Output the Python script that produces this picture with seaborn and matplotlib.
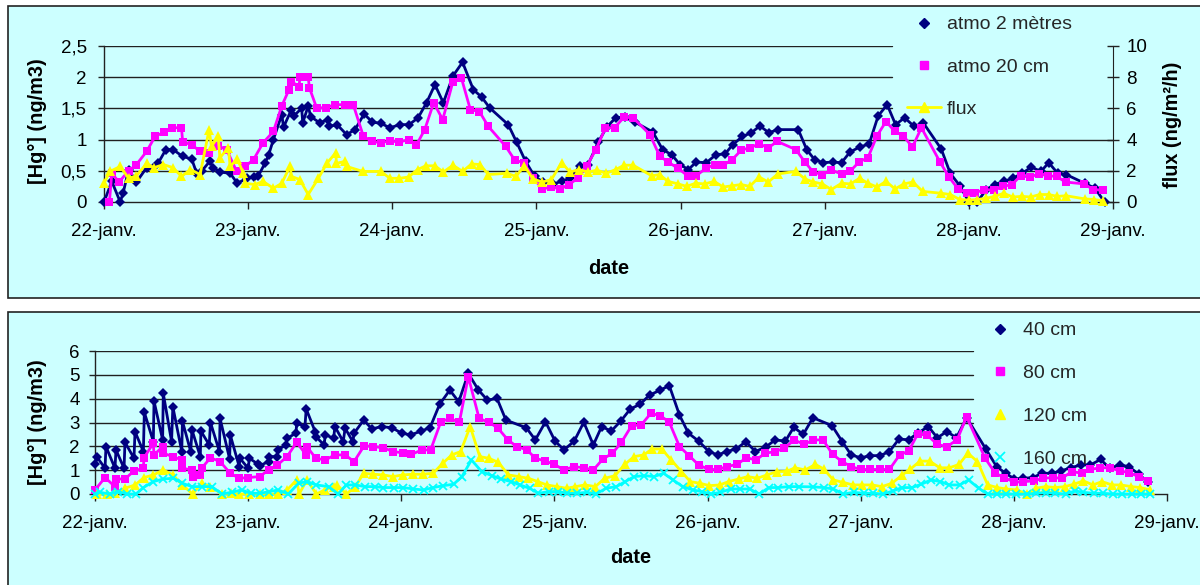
import numpy as np
import matplotlib
matplotlib.use("Agg")
import matplotlib.pyplot as plt
import seaborn as sns
from matplotlib.lines import Line2D
from matplotlib.patches import Rectangle

# ---------------------------------------------------------------------------
# Data: time in hours after 22-janv. 00:00, concentrations in ng/m3
# ---------------------------------------------------------------------------
day_labels = ['22-janv.', '23-janv.', '24-janv.', '25-janv.',
              '26-janv.', '27-janv.', '28-janv.', '29-janv.']

# upper panel: atmosphere 2 m
hours_atmo_2m = [
    0.0, 1.3, 2.7, 3.2, 4.1, 5.4, 7.1, 8.2, 9.0, 10.3,
    11.5, 13.1, 14.6, 15.4, 16.3, 17.6, 18.2, 19.3, 21.0, 22.2,
    23.8, 24.9, 25.7, 26.8, 27.4, 28.2, 29.6, 29.9, 31.2, 31.6,
    32.9, 33.1, 34.0, 34.4, 35.9, 37.3, 37.5, 38.8, 40.4, 41.8,
    43.3, 44.7, 46.1, 47.6, 49.3, 50.8, 52.3, 53.7, 55.1, 56.5,
    58.1, 59.7, 61.5, 62.9, 64.2, 67.3, 68.7, 70.2, 71.7, 73.1,
    74.8, 76.2, 77.6, 79.2, 80.6, 82.3, 83.7, 85.2, 86.7, 88.4,
    91.4, 93.0, 94.5, 95.9, 97.3, 98.6, 100.3, 101.9, 103.4, 104.7,
    106.3, 107.8, 109.2, 110.7, 112.2, 115.6, 117.0, 118.3, 119.7, 121.3,
    122.8, 124.2, 125.8, 127.4, 128.9, 130.4, 131.8, 133.3, 134.9, 136.4,
    139.4, 140.9, 142.5, 144.0, 145.4, 146.9, 148.3, 149.8, 151.3, 152.9,
    154.4, 156.0, 157.3, 158.8, 160.2, 163.3, 165.0, 166.6]
atmo_2m = [
    0.0, 0.33, 0.0, 0.15, 0.52, 0.32, 0.55, 0.55, 0.62, 0.84,
    0.84, 0.73, 0.69, 0.47, 0.50, 0.65, 0.55, 0.48, 0.46, 0.30,
    0.38, 0.40, 0.42, 0.62, 0.75, 1.0, 1.4, 1.2, 1.48, 1.38,
    1.50, 1.27, 1.54, 1.37, 1.27, 1.32, 1.21, 1.24, 1.08, 1.16,
    1.41, 1.28, 1.26, 1.19, 1.24, 1.24, 1.35, 1.59, 1.88, 1.59,
    2.02, 2.24, 1.80, 1.68, 1.51, 1.24, 0.96, 0.65, 0.41, 0.32,
    0.29, 0.33, 0.38, 0.57, 0.60, 0.96, 1.20, 1.35, 1.36, 1.28,
    1.12, 0.84, 0.76, 0.60, 0.52, 0.64, 0.63, 0.76, 0.77, 0.92,
    1.05, 1.11, 1.22, 1.11, 1.16, 1.16, 0.84, 0.68, 0.63, 0.64,
    0.63, 0.80, 0.88, 0.93, 1.38, 1.56, 1.24, 1.35, 1.21, 1.27,
    0.85, 0.46, 0.26, 0.0, 0.0, 0.20, 0.28, 0.33, 0.38, 0.46,
    0.56, 0.49, 0.63, 0.46, 0.44, 0.30, 0.22, 0.0]

# upper panel: atmosphere 20 cm
hours_atmo_20cm = [
    0.9, 1.3, 2.5, 4.1, 5.4, 7.1, 8.5, 10.0, 11.4, 12.9,
    13.1, 14.6, 16.0, 17.5, 19.0, 20.4, 22.1, 23.5, 24.9, 26.5,
    28.2, 29.6, 30.8, 31.2, 32.5, 32.6, 34.0, 34.2, 35.4, 36.9,
    38.4, 40.1, 41.5, 43.2, 44.7, 46.1, 47.6, 49.2, 50.7, 52.0,
    53.4, 54.9, 56.4, 58.1, 59.5, 61.0, 62.5, 64.0, 66.9, 68.4,
    69.9, 71.5, 73.0, 74.5, 76.0, 77.4, 78.9, 80.4, 81.9, 83.5,
    85.0, 86.6, 88.1, 90.9, 92.5, 93.9, 95.6, 97.3, 98.6, 100.2,
    101.7, 103.1, 104.6, 106.1, 107.5, 109.1, 110.6, 112.1, 115.2, 116.7,
    118.1, 119.6, 121.1, 122.8, 124.2, 125.7, 127.2, 128.7, 130.2, 131.7,
    133.1, 134.6, 136.1, 139.2, 140.7, 142.2, 143.7, 145.1, 146.6, 148.2,
    149.7, 151.2, 152.6, 154.1, 155.7, 157.2, 158.6, 160.1, 163.2, 164.7,
    166.3]
atmo_20cm = [
    0.0, 0.46, 0.32, 0.50, 0.60, 0.81, 1.05, 1.12, 1.19, 1.19,
    0.96, 0.92, 0.81, 0.79, 0.90, 0.84, 0.49, 0.57, 0.68, 0.95,
    1.13, 1.54, 1.80, 1.93, 1.85, 2.0, 2.0, 1.83, 1.51, 1.51,
    1.56, 1.56, 1.56, 1.05, 0.97, 0.95, 0.98, 0.96, 1.0, 0.91,
    1.16, 1.59, 1.32, 1.93, 1.99, 1.48, 1.45, 1.21, 0.89, 0.67,
    0.63, 0.38, 0.21, 0.24, 0.21, 0.28, 0.38, 0.58, 0.84, 1.19,
    1.19, 1.36, 1.35, 1.08, 0.74, 0.64, 0.54, 0.41, 0.42, 0.54,
    0.60, 0.59, 0.68, 0.83, 0.87, 0.93, 0.87, 0.97, 0.84, 0.64,
    0.48, 0.44, 0.51, 0.45, 0.49, 0.64, 0.71, 1.06, 1.29, 1.13,
    1.06, 0.88, 1.19, 0.64, 0.40, 0.21, 0.15, 0.15, 0.20, 0.19,
    0.25, 0.28, 0.42, 0.40, 0.45, 0.42, 0.41, 0.32, 0.29, 0.20,
    0.19]

# upper panel: flux (ng/m2/h, right-hand axis)
hours_flux = [
    0.0, 1.0, 2.7, 4.1, 5.4, 7.1, 8.3, 9.9, 11.5, 12.9,
    14.4, 16.0, 17.5, 17.9, 19.0, 19.3, 20.7, 21.0, 22.2, 23.2,
    23.5, 25.1, 26.5, 28.2, 29.6, 31.0, 31.2, 32.6, 34.0, 35.7,
    37.1, 38.6, 38.7, 40.1, 40.4, 43.1, 46.1, 47.6, 49.2, 50.7,
    52.2, 53.6, 55.1, 56.5, 58.1, 59.7, 61.2, 62.6, 64.0, 67.1,
    68.6, 70.0, 71.4, 73.0, 74.5, 76.2, 77.6, 79.1, 80.6, 82.1,
    83.6, 85.2, 86.6, 88.1, 91.2, 92.5, 93.9, 95.6, 97.0, 98.5,
    100.0, 101.6, 103.1, 104.6, 106.1, 107.5, 109.1, 110.6, 112.2, 115.2,
    116.7, 118.1, 119.6, 121.1, 122.8, 124.3, 125.8, 127.2, 128.7, 130.2,
    131.7, 133.2, 134.7, 136.3, 139.4, 140.9, 142.5, 144.0, 145.4, 146.9,
    148.3, 149.8, 151.3, 152.9, 154.3, 155.8, 157.3, 158.7, 160.2, 163.3,
    164.8, 166.3]
flux = [
    1.2, 1.96, 2.28, 1.52, 1.68, 2.48, 2.2, 2.4, 2.2, 1.64,
    2.08, 1.76, 4.64, 3.56, 4.2, 2.84, 3.48, 2.28, 2.76, 1.84,
    1.2, 1.12, 1.32, 0.88, 1.2, 2.32, 1.64, 1.44, 0.48, 1.52,
    2.48, 3.16, 2.48, 2.6, 2.28, 1.96, 1.96, 1.52, 1.52, 1.6,
    2.08, 2.32, 2.32, 1.92, 2.36, 1.96, 2.44, 2.4, 1.76, 1.84,
    1.64, 2.32, 1.48, 1.28, 1.44, 2.52, 1.92, 2.08, 1.92, 2.04,
    1.84, 2.08, 2.36, 2.36, 1.68, 1.76, 1.32, 1.16, 1.0, 1.2,
    1.16, 1.32, 0.96, 1.04, 1.12, 1.0, 1.6, 1.28, 1.8, 1.96,
    1.48, 1.28, 1.16, 0.8, 1.2, 1.16, 1.52, 1.2, 0.96, 1.32,
    0.84, 1.16, 1.28, 0.68, 0.56, 0.48, 0.16, 0.12, 0.16, 0.24,
    0.36, 0.56, 0.32, 0.36, 0.32, 0.48, 0.48, 0.36, 0.4, 0.2,
    0.16, 0.08]

# lower panel: soil gas at 40 cm
hours_40cm = [
    0.0, 0.26, 1.57, 1.72, 3.13, 3.29, 4.55, 4.70, 6.11, 6.27,
    7.58, 7.73, 9.14, 9.25, 10.6, 10.7, 12.0, 12.2, 13.6, 13.7,
    15.0, 15.2, 16.5, 16.6, 17.9, 18.1, 19.5, 19.6, 21.1, 21.2,
    22.6, 22.7, 24.0, 24.2, 25.6, 25.8, 27.2, 27.3, 28.5, 28.7,
    29.9, 30.1, 31.5, 31.6, 32.9, 33.1, 34.5, 34.6, 35.9, 36.1,
    37.4, 37.6, 38.9, 39.2, 40.4, 40.6, 42.1, 43.4, 44.9, 46.5,
    48.1, 49.5, 51.1, 52.5, 54.0, 55.6, 57.0, 58.5, 60.1, 61.5,
    63.0, 64.4, 67.6, 69.0, 70.6, 72.1, 73.5, 75.1, 76.6, 78.1,
    79.4, 80.9, 82.4, 83.9, 85.4, 86.9, 88.6, 90.0, 91.6, 93.0,
    94.6, 96.2, 97.6, 99.0, 100.5, 102.0, 103.5, 105.2, 106.6, 108.2,
    109.5, 111.0, 112.5, 115.5, 117.1, 118.5, 120.0, 121.5, 123.0, 124.5,
    126.0, 127.5, 128.9, 130.6, 132.0, 133.5, 135.0, 136.6, 139.6, 141.3,
    142.7, 144.1, 145.5, 147.0, 148.4, 150.0, 151.4, 152.9, 154.5, 156.0,
    157.6, 159.0, 160.6, 162.0, 163.6, 165.0]
soil_40cm = [
    1.24, 1.57, 1.08, 1.99, 1.08, 1.85, 1.08, 2.17, 1.50, 2.62,
    1.78, 3.43, 2.20, 3.90, 2.27, 4.22, 2.20, 3.66, 1.78, 3.06,
    1.78, 2.69, 1.57, 2.64, 2.06, 3.00, 1.78, 3.17, 1.47, 2.48,
    1.15, 1.50, 1.08, 1.50, 1.24, 1.19, 1.36, 1.57, 1.57, 1.85,
    2.06, 2.34, 2.55, 2.97, 2.83, 3.57, 2.62, 2.41, 2.06, 2.48,
    2.34, 2.83, 2.20, 2.76, 2.20, 2.55, 3.10, 2.73, 2.83, 2.78,
    2.55, 2.48, 2.64, 2.78, 3.76, 4.36, 3.87, 5.06, 4.36, 3.94,
    4.01, 3.10, 2.78, 2.27, 3.03, 2.22, 1.85, 2.22, 3.01, 2.06,
    2.83, 2.64, 3.06, 3.57, 3.76, 4.15, 4.36, 4.55, 3.31, 2.55,
    2.22, 1.78, 1.64, 1.78, 1.89, 2.20, 1.78, 1.99, 2.27, 2.22,
    2.80, 2.50, 3.20, 2.87, 2.20, 1.64, 1.52, 1.61, 1.61, 1.78,
    2.31, 2.27, 2.55, 2.83, 2.36, 2.62, 2.36, 3.20, 1.89, 1.15,
    0.87, 0.63, 0.66, 0.69, 0.87, 0.87, 0.97, 1.10, 1.22, 1.22,
    1.45, 1.08, 1.22, 1.15, 0.83, 0.49]

# lower panel: soil gas at 80 cm
hours_80cm = [
    0.0, 1.57, 3.13, 3.29, 4.70, 6.11, 7.58, 7.68, 9.14, 9.25,
    10.6, 10.7, 12.2, 13.6, 13.7, 15.2, 15.3, 16.5, 16.7, 18.1,
    19.6, 21.2, 22.6, 24.0, 25.8, 27.2, 28.6, 30.1, 31.6, 33.1,
    33.2, 34.6, 36.1, 37.6, 39.2, 40.6, 42.2, 43.6, 45.2, 46.7,
    48.2, 49.6, 51.2, 52.6, 54.2, 55.6, 57.1, 58.5, 60.2, 61.7,
    63.1, 64.7, 66.1, 67.7, 69.0, 70.6, 72.0, 73.5, 75.0, 76.6,
    78.1, 79.6, 81.1, 82.5, 84.1, 85.6, 87.1, 88.6, 90.0, 91.6,
    93.1, 94.6, 96.2, 97.6, 99.0, 100.6, 102.1, 103.6, 105.0, 106.6,
    108.0, 109.6, 111.1, 112.6, 114.1, 115.6, 117.1, 118.5, 120.0, 121.5,
    123.0, 124.5, 126.1, 127.5, 128.9, 130.4, 132.0, 133.5, 135.1, 136.6,
    139.5, 141.1, 142.5, 144.1, 145.5, 147.1, 148.6, 150.1, 151.5, 153.1,
    154.7, 156.0, 157.5, 159.0, 160.6, 162.0, 163.6, 165.1]
soil_80cm = [
    0.17, 0.69, 0.31, 0.63, 0.63, 0.97, 1.08, 1.52, 2.13, 1.64,
    1.99, 1.71, 1.57, 1.43, 1.08, 1.01, 0.73, 0.80, 1.08, 1.52,
    1.36, 0.87, 0.66, 0.69, 0.73, 1.01, 1.22, 1.57, 2.17, 1.64,
    1.99, 1.50, 1.43, 1.64, 1.64, 1.36, 2.03, 1.99, 1.94, 1.78,
    1.73, 1.66, 1.85, 1.85, 3.03, 3.17, 3.01, 4.92, 3.17, 3.01,
    2.78, 2.27, 1.99, 1.85, 1.50, 1.38, 1.24, 1.01, 1.15, 1.10,
    1.01, 1.47, 1.71, 2.17, 2.87, 2.90, 3.38, 3.29, 3.01, 1.99,
    1.61, 1.22, 1.03, 1.03, 1.15, 1.24, 1.52, 1.43, 1.71, 1.78,
    1.92, 2.27, 2.08, 2.27, 2.27, 1.66, 1.36, 1.15, 1.03, 1.03,
    1.03, 1.03, 1.64, 1.80, 2.50, 2.48, 2.08, 1.99, 2.27, 3.24,
    1.50, 0.87, 0.69, 0.49, 0.52, 0.55, 0.66, 0.69, 0.66, 0.94,
    0.87, 1.03, 1.10, 1.10, 0.97, 0.90, 0.73, 0.55]

# lower panel: soil gas at 120 cm
hours_120cm = [
    0.26, 1.83, 3.13, 4.70, 6.27, 7.68, 9.14, 10.7, 12.2, 13.7,
    15.3, 16.7, 18.1, 19.9, 21.3, 22.6, 24.2, 25.8, 27.2, 28.7,
    30.1, 31.6, 32.0, 33.2, 34.7, 36.0, 37.4, 37.9, 39.4, 40.8,
    42.1, 43.6, 45.2, 46.7, 48.2, 49.8, 51.4, 53.0, 54.5, 55.9,
    57.3, 58.8, 60.3, 61.7, 63.2, 64.8, 66.4, 67.9, 69.4, 70.8,
    72.4, 73.9, 75.3, 76.8, 78.4, 79.9, 81.5, 83.0, 84.5, 86.0,
    87.3, 88.8, 90.3, 91.9, 93.3, 94.8, 96.3, 97.9, 99.3, 100.9,
    102.3, 103.8, 105.3, 106.9, 108.4, 109.7, 111.3, 112.9, 114.2, 115.7,
    117.2, 118.8, 120.2, 121.8, 123.3, 124.9, 126.5, 127.8, 129.3, 130.8,
    132.4, 133.9, 135.4, 136.8, 138.3, 139.9, 141.4, 142.8, 144.5, 146.0,
    147.4, 149.0, 150.5, 152.0, 153.4, 154.9, 156.4, 157.8, 159.4, 160.8,
    162.4, 163.8, 165.4]
soil_120cm = [
    0.0, 0.0, 0.03, 0.24, 0.38, 0.69, 0.80, 1.01, 0.80, 0.38,
    0.0, 0.45, 0.31, 0.0, 0.03, 0.0, 0.0, 0.0, 0.0, 0.0,
    0.17, 0.59, 0.0, 0.59, 0.0, 0.17, 0.31, 0.38, 0.0, 0.31,
    0.87, 0.83, 0.80, 0.73, 0.80, 0.83, 0.83, 0.87, 1.29, 1.64,
    1.78, 2.83, 1.57, 1.50, 1.33, 0.80, 0.73, 0.66, 0.52, 0.38,
    0.31, 0.24, 0.31, 0.38, 0.31, 0.66, 0.77, 1.24, 1.57, 1.64,
    1.89, 1.89, 1.43, 0.94, 0.52, 0.45, 0.35, 0.38, 0.52, 0.63,
    0.73, 0.66, 0.80, 0.94, 0.95, 1.10, 1.01, 1.24, 1.05, 0.59,
    0.49, 0.38, 0.38, 0.38, 0.31, 0.45, 0.80, 1.05, 1.38, 1.38,
    1.10, 1.10, 1.24, 1.71, 1.36, 0.38, 0.27, 0.21, 0.17, 0.0,
    0.24, 0.31, 0.27, 0.31, 0.41, 0.55, 0.38, 0.52, 0.38, 0.38,
    0.31, 0.27, 0.17]

# lower panel: soil gas at 160 cm
hours_160cm = [
    0.0, 0.78, 2.35, 3.66, 4.96, 6.43, 7.58, 9.14, 10.7, 12.3,
    13.7, 15.2, 16.7, 18.3, 19.9, 21.4, 23.0, 24.4, 25.9, 27.3,
    28.7, 30.3, 31.9, 33.2, 34.7, 36.6, 38.1, 39.4, 40.8, 42.3,
    43.9, 45.2, 46.8, 48.3, 49.9, 51.5, 53.0, 54.6, 56.2, 57.5,
    59.0, 60.6, 62.2, 63.6, 65.2, 66.6, 68.1, 69.5, 71.1, 72.6,
    74.0, 75.5, 77.1, 78.5, 80.1, 81.7, 83.1, 84.5, 86.1, 87.6,
    89.1, 90.6, 92.1, 93.7, 95.1, 96.6, 98.0, 99.6, 101.1, 102.6,
    104.1, 105.6, 107.1, 108.7, 110.3, 112.5, 114.2, 115.7, 117.3, 118.9,
    120.5, 122.0, 123.5, 125.1, 126.5, 128.0, 129.5, 131.0, 132.5, 133.9,
    135.5, 136.9, 138.5, 139.9, 141.4, 142.8, 144.4, 146.0, 147.5, 149.0,
    150.5, 152.1, 153.6, 154.9, 156.5, 157.9, 159.5, 160.9, 162.5, 163.9,
    165.4]
soil_160cm = [
    0.0, 0.07, 0.0, 0.10, 0.0, 0.0, 0.27, 0.52, 0.63, 0.66,
    0.45, 0.31, 0.31, 0.31, 0.0, 0.07, 0.17, 0.03, 0.03, 0.10,
    0.17, 0.0, 0.45, 0.52, 0.38, 0.31, 0.0, 0.38, 0.38, 0.31,
    0.31, 0.27, 0.27, 0.27, 0.21, 0.17, 0.27, 0.35, 0.41, 0.73,
    1.43, 0.94, 0.77, 0.63, 0.52, 0.38, 0.24, 0.03, 0.10, 0.10,
    0.03, 0.03, 0.07, 0.0, 0.24, 0.31, 0.52, 0.73, 0.77, 0.73,
    0.87, 0.59, 0.31, 0.17, 0.10, 0.0, 0.07, 0.21, 0.21, 0.21,
    0.0, 0.27, 0.27, 0.31, 0.31, 0.30, 0.27, 0.21, 0.0, 0.07,
    0.03, 0.03, 0.0, 0.13, 0.27, 0.27, 0.41, 0.59, 0.52, 0.38,
    0.38, 0.59, 0.24, 0.0, 0.0, 0.0, 0.0, 0.0, 0.03, 0.06,
    0.03, 0.0, 0.13, 0.07, 0.03, 0.03, 0.0, 0.0, 0.0, 0.0,
    0.0]

# ---------------------------------------------------------------------------
# Styling
# ---------------------------------------------------------------------------
sns.set_style("ticks")
plt.rcParams['font.family'] = ['Liberation Sans', 'DejaVu Sans']

NAVY, MAGENTA, YELLOW, CYAN = '#000080', '#FF00FF', '#FFFF00', '#00FFFF'
PANEL = '#CCFFFF'
AXIS = '#222222'
TICK_FS = 13.5
LABEL_FS = 14.3
LEGEND_FS = 14.0
MS_DIAMOND, MS_SQUARE, MS_TRIANGLE, MS_CROSS = 5.5, 6.0, 6.8, 6.0

W, H = 1200, 585
fig = plt.figure(figsize=(W / 100, H / 100), dpi=100)


def fx(px):
    return px / W


def fy(py):
    return 1 - py / H


# light cyan chart frames, drawn underneath both axes
for x0, y0, x1, y1 in [(8, 6, 1215, 298), (8, 312, 1215, 600)]:
    fig.patches.append(Rectangle((fx(x0), fy(y1)), fx(x1) - fx(x0), fy(y0) - fy(y1),
                                 transform=fig.transFigure, facecolor=PANEL,
                                 edgecolor=AXIS, linewidth=1.2, zorder=-10))


def series(ax, hours, values, color, marker, ms, mew=0.0):
    sns.lineplot(x=np.asarray(hours) / 24.0, y=values, ax=ax, color=color,
                 linewidth=2.0, marker=marker, markersize=ms,
                 markerfacecolor=color, markeredgecolor=color,
                 markeredgewidth=mew, estimator=None, sort=False,
                 clip_on=False, zorder=3)


def style_axes(ax, ylim, yticks, yticklabels, grid_levels, grid_end, ypad):
    ax.set_facecolor('none')
    ax.set_xlim(0, 7)
    ax.set_ylim(*ylim)
    ax.set_xticks(range(8))
    ax.set_xticklabels(day_labels)
    ax.set_yticks(yticks)
    ax.set_yticklabels(yticklabels)
    for side in ('top', 'right'):
        ax.spines[side].set_visible(False)
    for side in ('left', 'bottom'):
        ax.spines[side].set_color(AXIS)
        ax.spines[side].set_linewidth(1.0)
    ax.tick_params(axis='x', direction='out', length=5, width=1, color=AXIS,
                   labelsize=TICK_FS, labelcolor='black', pad=10)
    ax.tick_params(axis='y', direction='out', length=4.5, width=1, color=AXIS,
                   labelsize=TICK_FS, labelcolor='black', pad=ypad)
    for level, end in zip(grid_levels, grid_end):
        ax.axhline(level, 0, end, color='#202020', linewidth=1.0, zorder=1)
    ax.set_xlabel('date', fontsize=LABEL_FS, fontweight='bold', color='black')
    ax.set_ylabel('[Hg°] (ng/m3)', fontsize=LABEL_FS, fontweight='bold', color='black')


# ---------------------------------------------------------------------------
# Upper chart: atmospheric concentrations and flux
# ---------------------------------------------------------------------------
ax_top = fig.add_axes([fx(104), fy(202), fx(1113) - fx(104), fy(46) - fy(202)])
style_axes(ax_top, (0, 2.5), [0, 0.5, 1, 1.5, 2, 2.5],
           ['0', '0,5', '1', '1,5', '2', '2,5'],
           [0.5, 1.0, 1.5, 2.0, 2.5], [1, 1, 0.781, 0.781, 0.781], ypad=8)
ax_top.xaxis.set_label_coords(0.5, -0.365)
ax_top.yaxis.set_label_coords(-0.0565, 0.519)

series(ax_top, hours_atmo_2m, atmo_2m, NAVY, 'D', MS_DIAMOND)
series(ax_top, hours_atmo_20cm, atmo_20cm, MAGENTA, 's', MS_SQUARE)

ax_flux = ax_top.twinx()
ax_flux.set_ylim(0, 10)
ax_flux.set_yticks([0, 2, 4, 6, 8, 10])
for side in ('top', 'left', 'bottom'):
    ax_flux.spines[side].set_visible(False)
ax_flux.spines['right'].set_color(AXIS)
ax_flux.tick_params(axis='y', direction='inout', length=9, width=1, color=AXIS,
                    labelsize=TICK_FS, labelcolor='black', pad=5)
series(ax_flux, hours_flux, flux, YELLOW, '^', MS_TRIANGLE)
ax_flux.set_ylabel('flux (ng/m²/h)', fontsize=LABEL_FS, fontweight='bold', color='black')
ax_flux.yaxis.set_label_coords(1.0496, 0.497)

top_handles = [
    Line2D([], [], ls='none', marker='D', ms=MS_DIAMOND, color=NAVY),
    Line2D([], [], ls='none', marker='s', ms=MS_SQUARE, color=MAGENTA),
    Line2D([], [], ls='-', lw=2, marker='^', ms=MS_TRIANGLE, color=YELLOW),
]
ax_flux.legend(top_handles, ['atmo 2 mètres', 'atmo 20 cm', 'flux'],
               loc='upper left', bbox_to_anchor=(fx(899), fy(8)),
               bbox_transform=fig.transFigure, frameon=False,
               fontsize=LEGEND_FS, handlelength=1.76, handletextpad=0.32,
               labelspacing=1.27, borderpad=0.4, borderaxespad=0)

# ---------------------------------------------------------------------------
# Lower chart: soil gas concentrations by depth
# ---------------------------------------------------------------------------
ax_bot = fig.add_axes([fx(95), fy(494), fx(1167) - fx(95), fy(351) - fy(494)])
style_axes(ax_bot, (0, 6), [0, 1, 2, 3, 4, 5, 6],
           ['0', '1', '2', '3', '4', '5', '6'],
           [1, 2, 3, 4, 5, 6], [0.819] * 6, ypad=6.5)
ax_bot.xaxis.set_label_coords(0.5, -0.378)
ax_bot.yaxis.set_label_coords(-0.0448, 0.503)

series(ax_bot, hours_40cm, soil_40cm, NAVY, 'D', MS_DIAMOND)
series(ax_bot, hours_80cm, soil_80cm, MAGENTA, 's', MS_SQUARE)
series(ax_bot, hours_120cm, soil_120cm, YELLOW, '^', MS_TRIANGLE)
series(ax_bot, hours_160cm, soil_160cm, CYAN, 'x', MS_CROSS, mew=1.3)

bot_handles = [
    Line2D([], [], ls='none', marker='D', ms=MS_DIAMOND, color=NAVY),
    Line2D([], [], ls='none', marker='s', ms=MS_SQUARE, color=MAGENTA),
    Line2D([], [], ls='none', marker='^', ms=MS_TRIANGLE, color=YELLOW),
    Line2D([], [], ls='none', marker='x', ms=MS_CROSS + 0.5, mew=1.3, color=CYAN),
]
ax_bot.legend(bot_handles, ['40 cm', '80 cm', '120 cm', '160 cm'],
              loc='upper left', bbox_to_anchor=(fx(975), fy(314)),
              bbox_transform=fig.transFigure, frameon=False,
              fontsize=LEGEND_FS, handlelength=1.76, handletextpad=0.32,
              labelspacing=1.3, borderpad=0.4, borderaxespad=0)

fig.savefig('out.png', dpi=100)
